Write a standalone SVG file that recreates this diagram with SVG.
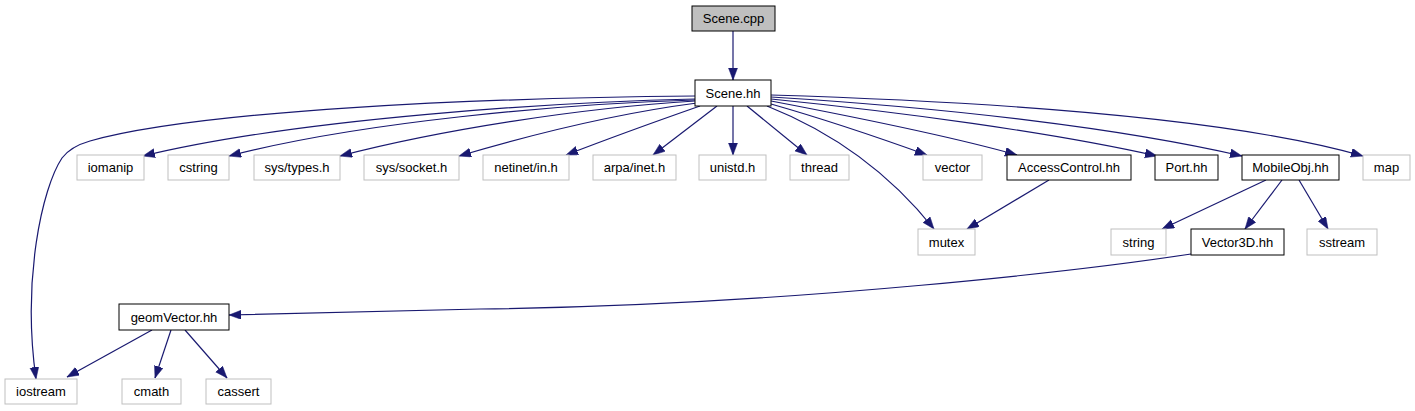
<svg xmlns="http://www.w3.org/2000/svg" width="1415" height="411" viewBox="0 0 1415 411">
<style>
.n rect{fill:#ffffff;stroke:#000000;stroke-width:1}
.g rect{fill:#ffffff;stroke:#bfbfbf;stroke-width:1}
.root rect{fill:#bfbfbf;stroke:#000000;stroke-width:1}
text{font-family:"Liberation Sans",Arial,Helvetica,sans-serif;font-size:13px;fill:#000000;text-anchor:middle}
#edges path{fill:none;stroke:#191970;stroke-width:1.2;marker-end:url(#ah)}
</style>
<defs>
<marker id="ah" markerUnits="userSpaceOnUse" markerWidth="13" markerHeight="10" refX="12" refY="4.5" orient="auto">
<path d="M0,0 L12,4.5 L0,9 z" fill="#191970" stroke="#191970" stroke-width="0.5"/>
</marker>
</defs>
<rect x="0" y="0" width="1415" height="411" fill="#ffffff"/>
<g id="edges">
<path d="M733,31 L733,80"/>
<path d="M695,96 C480,98 200,110 90,141 C76,145 68,150 62,158 C42,188 22,280 36,379"/>
<path d="M695,99 C560,102 300,118 143,156"/>
<path d="M695,100 C560,104 360,122 229,156"/>
<path d="M695,101 C580,108 440,130 340,156"/>
<path d="M697,103 C620,113 530,135 459,156"/>
<path d="M700,106 C660,120 610,138 566,155"/>
<path d="M717,106 L653,155"/>
<path d="M733,106 L733,155"/>
<path d="M747,106 L807,155"/>
<path d="M771,104 C820,118 880,138 927,155"/>
<path d="M771,101 C860,118 950,136 1017,155"/>
<path d="M771,99 C900,112 1050,132 1157,156"/>
<path d="M771,97 C950,108 1120,128 1242,156"/>
<path d="M771,95 C1000,102 1230,118 1363,156"/>
<path d="M767,106 C840,135 895,180 934,229"/>
<path d="M1049,180 L967,229"/>
<path d="M1266,180 L1162,229"/>
<path d="M1282,180 L1245,229"/>
<path d="M1299,180 L1328,229"/>
<path d="M1191,254 C1100,268 800,305 480,309 C380,311 300,314 229,315"/>
<path d="M152,330 L67,377"/>
<path d="M171,330 L155,378"/>
<path d="M185,330 L227,378"/>
</g>
<g id="n_scene_cpp" class="root"><rect x="692" y="6" width="83" height="25"/><text x="733.5" y="23">Scene.cpp</text></g>
<g id="n_scene_hh" class="n"><rect x="695" y="80" width="76" height="26"/><text x="733" y="97.5">Scene.hh</text></g>
<g id="n_iomanip" class="g"><rect x="77" y="155" width="67" height="25"/><text x="110.5" y="172">iomanip</text></g>
<g id="n_cstring" class="g"><rect x="168" y="155" width="61" height="25"/><text x="198.5" y="172">cstring</text></g>
<g id="n_systypes" class="g"><rect x="254" y="155" width="86" height="25"/><text x="297" y="172">sys/types.h</text></g>
<g id="n_syssocket" class="g"><rect x="364" y="155" width="95" height="25"/><text x="411.5" y="172">sys/socket.h</text></g>
<g id="n_netinet" class="g"><rect x="483" y="155" width="86" height="25"/><text x="526" y="172">netinet/in.h</text></g>
<g id="n_arpa" class="g"><rect x="593" y="155" width="83" height="25"/><text x="634.5" y="172">arpa/inet.h</text></g>
<g id="n_unistd" class="g"><rect x="699" y="155" width="67" height="25"/><text x="732.5" y="172">unistd.h</text></g>
<g id="n_thread" class="g"><rect x="790" y="155" width="59" height="25"/><text x="819.5" y="172">thread</text></g>
<g id="n_vector" class="g"><rect x="923" y="155" width="59" height="25"/><text x="952.5" y="172">vector</text></g>
<g id="n_access" class="n"><rect x="1007" y="155" width="124" height="25"/><text x="1069" y="172">AccessControl.hh</text></g>
<g id="n_port" class="n"><rect x="1155" y="155" width="63" height="25"/><text x="1186.5" y="172">Port.hh</text></g>
<g id="n_mobile" class="n"><rect x="1242" y="155" width="97" height="25"/><text x="1290.5" y="172">MobileObj.hh</text></g>
<g id="n_map" class="g"><rect x="1363" y="155" width="47" height="25"/><text x="1386.5" y="172">map</text></g>
<g id="n_mutex" class="g"><rect x="918" y="229" width="57" height="26"/><text x="946.5" y="246.5">mutex</text></g>
<g id="n_string" class="g"><rect x="1111" y="229" width="55" height="26"/><text x="1138.5" y="246.5">string</text></g>
<g id="n_vector3d" class="n"><rect x="1191" y="229" width="93" height="26"/><text x="1237.5" y="246.5">Vector3D.hh</text></g>
<g id="n_sstream" class="g"><rect x="1307" y="229" width="70" height="26"/><text x="1342" y="246.5">sstream</text></g>
<g id="n_geomvector" class="n"><rect x="119" y="304" width="110" height="26"/><text x="174" y="321.5">geomVector.hh</text></g>
<g id="n_iostream" class="g"><rect x="5" y="379" width="72" height="25"/><text x="41" y="396">iostream</text></g>
<g id="n_cmath" class="g"><rect x="122" y="379" width="59" height="25"/><text x="151.5" y="396">cmath</text></g>
<g id="n_cassert" class="g"><rect x="206" y="379" width="65" height="25"/><text x="238.5" y="396">cassert</text></g>
</svg>
